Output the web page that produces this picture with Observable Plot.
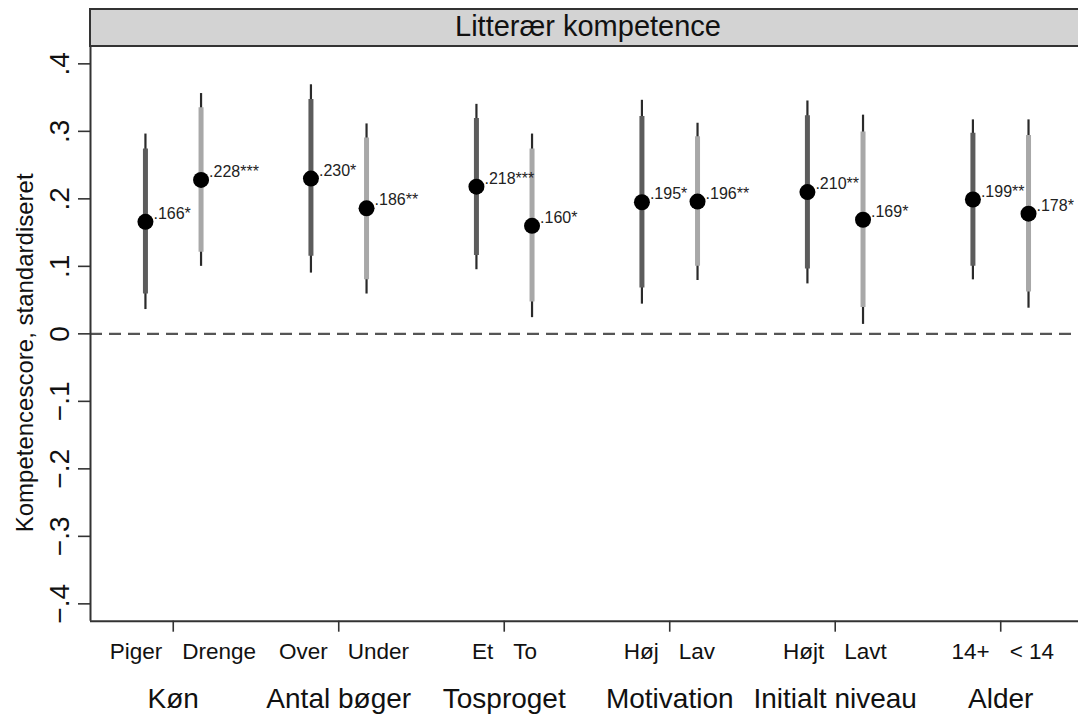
<!DOCTYPE html>
<html>
<head>
<meta charset="utf-8">
<script src="https://cdn.jsdelivr.net/npm/d3@7"></script>
<script src="https://cdn.jsdelivr.net/npm/@observablehq/plot@0.6"></script>
<style>
  html, body { margin: 0; padding: 0; background: #fff; overflow: hidden; }
  #wrap { position: relative; width: 1078px; height: 714px; font-family: "Liberation Sans", Arial, sans-serif; }
  #strip {
    position: absolute; left: 89px; top: 8px; width: 1000px; height: 35px;
    background: #d3d3d3; border: 2px solid #333; box-sizing: content-box;
  }
  #strip span {
    position: absolute; left: 0; width: 994px; top: 0; text-align: center;
    font-size: 29px; line-height: 33px; color: #111;
  }
  #chart { position: absolute; left: 0; top: 0; }
</style>
</head>
<body>
<div id="wrap">
  <div id="chart"></div>
  <div id="strip"><span>Litterær kompetence</span></div>
</div>
<script>
// ---- data ----
const groups = ["Køn", "Antal bøger", "Tosproget", "Motivation", "Initialt niveau", "Alder"];
const categories = ["Piger", "Drenge", "Over", "Under", "Et", "To", "Høj", "Lav", "Højt", "Lavt", "14+", "< 14"];
const estimates = [0.166, 0.228, 0.230, 0.186, 0.218, 0.160, 0.195, 0.196, 0.210, 0.169, 0.199, 0.178];
const stars = ["*", "***", "*", "**", "***", "*", "*", "**", "**", "*", "**", "*"];
const ciLow95  = [0.036, 0.100, 0.090, 0.059, 0.095, 0.024, 0.044, 0.079, 0.074, 0.014, 0.080, 0.038];
const ciHigh95 = [0.296, 0.356, 0.369, 0.311, 0.340, 0.296, 0.346, 0.312, 0.345, 0.324, 0.317, 0.317];
const ciLow90  = [0.059, 0.121, 0.115, 0.080, 0.116, 0.047, 0.068, 0.100, 0.096, 0.039, 0.100, 0.062];
const ciHigh90 = [0.274, 0.335, 0.347, 0.290, 0.319, 0.274, 0.322, 0.292, 0.323, 0.299, 0.297, 0.294];
const yTicks = [-0.4, -0.3, -0.2, -0.1, 0, 0.1, 0.2, 0.3, 0.4];
const yTitle = "Kompetencescore, standardiseret";

// ---- build table ----
const offset = 0.168;
const fmt3 = d3.format(".3f");
const data = categories.map((c, i) => {
  const gi = Math.floor(i / 2), side = i % 2;
  return {
    category: c, group: groups[gi], gi, side,
    center: gi + 0.5,
    x: gi + 0.5 + (side ? offset : -offset),
    est: estimates[i],
    label: fmt3(estimates[i]).replace(/^0/, "") + stars[i],
    lo95: ciLow95[i], hi95: ciHigh95[i], lo90: ciLow90[i], hi90: ciHigh90[i]
  };
});
const groupData = groups.map((g, i) => ({group: g, center: i + 0.5}));
const xDomain = [0, 5.97];
const yDomain = [-0.4257, 0.4257];
const yFmt = d => d === 0 ? "0" : d3.format(".1f")(d).replace("0.", ".");
const ink = "#333";

const chart = Plot.plot({
  width: 1078,
  height: 714,
  marginTop: 46,
  marginBottom: 93.3,
  marginLeft: 90,
  marginRight: 0,
  style: {fontFamily: "'Liberation Sans', Arial, sans-serif", background: "transparent", color: "#111"},
  x: {type: "linear", domain: xDomain},
  y: {domain: yDomain},
  marks: [
    Plot.ruleY([0], {stroke: "#555", strokeWidth: 2.2, strokeDasharray: "12,7"}),
    Plot.ruleX(data, {x: "x", y1: "lo95", y2: "hi95", stroke: "#2a2a2a", strokeWidth: 2.2}),
    Plot.ruleX(data, {filter: d => d.side === 0, x: "x", y1: "lo90", y2: "hi90", stroke: "#5c5c5c", strokeWidth: 5}),
    Plot.ruleX(data, {filter: d => d.side === 1, x: "x", y1: "lo90", y2: "hi90", stroke: "#a8a8a8", strokeWidth: 5}),
    Plot.dot(data, {x: "x", y: "est", r: 8, fill: "black", stroke: "none"}),
    Plot.text(data, {x: "x", y: "est", text: "label", dx: 8, dy: -8, textAnchor: "start", fontSize: 16, fill: "#222"}),
    // frame lines
    Plot.ruleX([xDomain[0]], {stroke: ink, strokeWidth: 2}),
    Plot.ruleY([yDomain[0]], {stroke: ink, strokeWidth: 2}),
    // axes ticks
    Plot.axisY({ticks: yTicks, tickSize: 12, tickFormat: () => "", label: null, stroke: ink, strokeWidth: 1.6}),
    Plot.axisX({ticks: groupData.map(d => d.center), tickSize: 11, tickFormat: () => "", label: null, stroke: ink, strokeWidth: 1.6}),
    // y tick labels
    Plot.text(yTicks, {y: d => d, text: yFmt, frameAnchor: "left", dx: -22, rotate: -90, lineAnchor: "bottom", textAnchor: "middle", fontSize: 28, fill: "#111"}),
    // y title
    Plot.text([yTitle], {frameAnchor: "left", dx: -58, dy: 19, rotate: -90, lineAnchor: "bottom", textAnchor: "middle", fontSize: 24, fill: "#111"}),
    // category labels
    Plot.text(data, {filter: d => d.side === 0, x: "center", text: "category", frameAnchor: "bottom", dx: -11, dy: 38, textAnchor: "end", lineAnchor: "bottom", fontSize: 22.5, fill: "#111"}),
    Plot.text(data, {filter: d => d.side === 1, x: "center", text: "category", frameAnchor: "bottom", dx: 9, dy: 38, textAnchor: "start", lineAnchor: "bottom", fontSize: 22.5, fill: "#111"}),
    // group labels
    Plot.text(groupData, {x: "center", text: "group", frameAnchor: "bottom", dy: 87, textAnchor: "middle", lineAnchor: "bottom", fontSize: 28, fill: "#111"})
  ]
});
document.getElementById("chart").appendChild(chart);
</script>
</body>
</html>
